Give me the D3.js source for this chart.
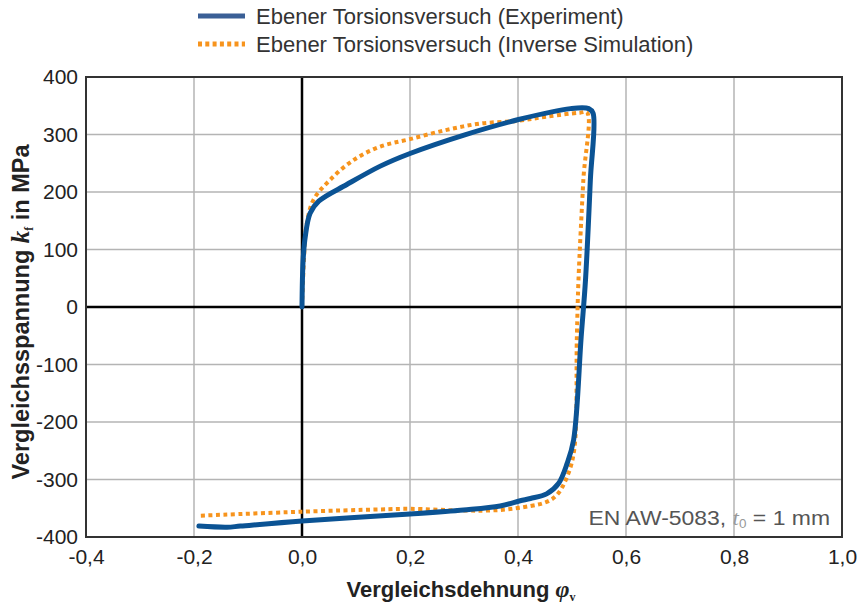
<!DOCTYPE html>
<html><head><meta charset="utf-8">
<script src="https://cdn.jsdelivr.net/npm/d3@7"></script>
<style>body{margin:0;background:#fff}svg{display:block}text{font-family:"Liberation Sans",Arial,sans-serif}</style>
</head><body><svg id="c" width="863" height="605"></svg>
<script>
const xTicks=[-0.4,-0.2,0,0.2,0.4,0.6,0.8,1.0];
const yTicks=[-400,-300,-200,-100,0,100,200,300,400];
const seriesNames=["Ebener Torsionsversuch (Experiment)","Ebener Torsionsversuch (Inverse Simulation)"];
const expX=[0,0.002,0.006,0.015,0.031,0.083,0.145,0.2,0.3,0.401,0.497,0.531,0.539,0.534,0.525,0.517,0.503,0.491,0.475,0.453,0.423,0.404,0.367,0.299,0.2,0,-0.114,-0.139,-0.191];
const expY=[0,80,122,163,184,213,245,267,299,326,345,345,337,221,47,-52,-231,-272,-307,-325,-333,-337,-346,-353,-360,-372,-381,-383,-381];
const simX=[0,0.004,0.008,0.021,0.052,0.096,0.145,0.2,0.268,0.33,0.401,0.453,0.515,0.528,0.521,0.512,0.509,0.504,0.491,0.472,0.453,0.423,0.367,0.299,0.2,0.145,0,-0.191];
const simY=[0,90,140,186,221,256,279,292,308,319,324,331,338,338,221,47,-52,-249,-295,-327,-339,-346,-353,-354,-351,-352,-356,-363];

const svg=d3.select("#c");
const L=86,R=842,T=77,B=537;
const x=d3.scaleLinear().domain([-0.4,1.0]).range([L,R]);
const y=d3.scaleLinear().domain([-400,400]).range([B,T]);
const fmt=d=>d3.format(".1f")(d).replace(".",",").replace("−","-");

// grid
const g=svg.append("g");
g.selectAll(".gx").data(xTicks).enter().append("line")
 .attr("x1",d=>x(d)).attr("x2",d=>x(d)).attr("y1",T).attr("y2",B)
 .attr("stroke","#b4b4b4").attr("stroke-width",1.5);
g.selectAll(".gy").data(yTicks).enter().append("line")
 .attr("y1",d=>y(d)).attr("y2",d=>y(d)).attr("x1",L).attr("x2",R)
 .attr("stroke","#b4b4b4").attr("stroke-width",1.5);
// zero axes
svg.append("line").attr("x1",x(0)).attr("x2",x(0)).attr("y1",T).attr("y2",B).attr("stroke","#000").attr("stroke-width",2.5);
svg.append("line").attr("x1",L).attr("x2",R).attr("y1",y(0)).attr("y2",y(0)).attr("stroke","#000").attr("stroke-width",2.5);

// annotation
const ann=svg.append("text").attr("transform","translate(830,525) scale(1.12,1)").attr("text-anchor","end")
 .attr("font-size",20.5).attr("fill","#555");
ann.append("tspan").text("EN AW-5083, ");
ann.append("tspan").attr("font-style","italic").attr("font-family","Liberation Serif, serif").attr("fill","#999").text("t");
ann.append("tspan").attr("font-size",12).attr("dy",3).attr("fill","#999").text("0");
ann.append("tspan").attr("dy",-3).text(" = 1 mm");

// curves
const line=d3.line().x(d=>x(d[0])).y(d=>y(d[1])).curve(d3.curveCatmullRom.alpha(0.5));
const expData=expX.map((v,i)=>[v,expY[i]]);
const simData=simX.map((v,i)=>[v,simY[i]]);
svg.append("path").datum(simData).attr("d",line).attr("fill","none")
 .attr("stroke","#f7941d").attr("stroke-width",4).attr("stroke-dasharray","4,3.5");
svg.append("path").datum(expData).attr("d",line).attr("fill","none")
 .attr("stroke","#0b5394").attr("stroke-width",5).attr("stroke-linejoin","round").attr("stroke-linecap","round");

// frame
svg.append("rect").attr("x",L).attr("y",T).attr("width",R-L).attr("height",B-T)
 .attr("fill","none").attr("stroke","#333").attr("stroke-width",2);

// axes
const xa=svg.append("g").attr("transform",`translate(0,${B})`)
 .call(d3.axisBottom(x).tickValues(xTicks).tickFormat(fmt).tickSize(0).tickPadding(9));
const ya=svg.append("g").attr("transform",`translate(${L},0)`)
 .call(d3.axisLeft(y).tickValues(yTicks).tickFormat(d=>String(d)).tickSize(0).tickPadding(8));
[xa,ya].forEach(a=>{a.select(".domain").remove();a.selectAll("text").attr("font-size",21).attr("fill","#222").attr("font-family","Liberation Sans, Arial, sans-serif");});
xa.selectAll("text").attr("dy","0.85em");

// axis titles
const xt=svg.append("text").attr("x",461).attr("y",597).attr("text-anchor","middle")
 .attr("font-size",22).attr("font-weight","bold").attr("fill","#222");
xt.append("tspan").text("Vergleichsdehnung ");
xt.append("tspan").attr("font-style","italic").attr("font-family","Liberation Serif, serif").attr("font-size",24).text("φ");
xt.append("tspan").attr("font-size",12).attr("dy",4).attr("font-family","Liberation Serif, serif").text("v");
const yt=svg.append("text").attr("transform","translate(29,312) rotate(-90)").attr("text-anchor","middle")
 .attr("font-size",23.5).attr("font-weight","bold").attr("fill","#222");
yt.append("tspan").text("Vergleichsspannung ");
yt.append("tspan").attr("font-style","italic").attr("font-family","Liberation Serif, serif").attr("font-size",25).text("k");
yt.append("tspan").attr("font-size",12).attr("dy",4).attr("font-family","Liberation Serif, serif").text("f");
yt.append("tspan").attr("dy",-4).text(" in MPa");

// legend
const lg=svg.append("g");
lg.append("line").attr("x1",198).attr("x2",245).attr("y1",16).attr("y2",16).attr("stroke","#3a5f96").attr("stroke-width",5);
lg.append("line").attr("x1",198).attr("x2",245).attr("y1",44).attr("y2",44).attr("stroke","#f7941d").attr("stroke-width",5).attr("stroke-dasharray","4,3.3");
lg.selectAll(".lt").data(seriesNames).enter().append("text")
 .attr("x",256).attr("y",(d,i)=>24+i*28).attr("font-size",22).attr("fill","#333").text(d=>d);
</script></body></html>
